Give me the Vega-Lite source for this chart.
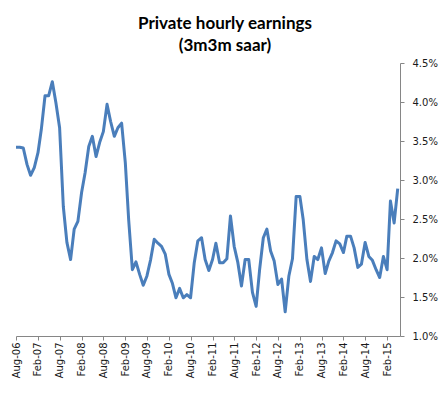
{
  "$schema": "https://vega.github.io/schema/vega-lite/v6.json",
  "width": 384,
  "height": 273,
  "autosize": {"type": "none"},
  "padding": {"left": 16, "top": 63, "right": 47, "bottom": 57},
  "background": "white",
  "config": {"view": {"stroke": null}},
  "title": {
    "text": ["Private hourly earnings", "(3m3m saar)"],
    "font": "Lato",
    "fontSize": 17,
    "fontWeight": "bold",
    "color": "black",
    "lineHeight": 22,
    "anchor": "middle",
    "dx": 17,
    "offset": 3
  },
  "data": {
    "values": [
      {"date": "2006-08-01", "value": 3.42},
      {"date": "2006-09-01", "value": 3.42},
      {"date": "2006-10-01", "value": 3.41},
      {"date": "2006-11-01", "value": 3.20},
      {"date": "2006-12-01", "value": 3.06},
      {"date": "2007-01-01", "value": 3.16},
      {"date": "2007-02-01", "value": 3.35},
      {"date": "2007-03-01", "value": 3.65},
      {"date": "2007-04-01", "value": 4.08},
      {"date": "2007-05-01", "value": 4.08},
      {"date": "2007-06-01", "value": 4.26},
      {"date": "2007-07-01", "value": 3.99},
      {"date": "2007-08-01", "value": 3.67},
      {"date": "2007-09-01", "value": 2.66},
      {"date": "2007-10-01", "value": 2.20},
      {"date": "2007-11-01", "value": 1.98},
      {"date": "2007-12-01", "value": 2.37},
      {"date": "2008-01-01", "value": 2.47},
      {"date": "2008-02-01", "value": 2.84},
      {"date": "2008-03-01", "value": 3.09},
      {"date": "2008-04-01", "value": 3.43},
      {"date": "2008-05-01", "value": 3.56},
      {"date": "2008-06-01", "value": 3.30},
      {"date": "2008-07-01", "value": 3.48},
      {"date": "2008-08-01", "value": 3.62},
      {"date": "2008-09-01", "value": 3.97},
      {"date": "2008-10-01", "value": 3.75},
      {"date": "2008-11-01", "value": 3.56},
      {"date": "2008-12-01", "value": 3.67},
      {"date": "2009-01-01", "value": 3.73},
      {"date": "2009-02-01", "value": 3.22},
      {"date": "2009-03-01", "value": 2.49},
      {"date": "2009-04-01", "value": 1.85},
      {"date": "2009-05-01", "value": 1.95},
      {"date": "2009-06-01", "value": 1.79},
      {"date": "2009-07-01", "value": 1.65},
      {"date": "2009-08-01", "value": 1.77},
      {"date": "2009-09-01", "value": 1.98},
      {"date": "2009-10-01", "value": 2.24},
      {"date": "2009-11-01", "value": 2.19},
      {"date": "2009-12-01", "value": 2.15},
      {"date": "2010-01-01", "value": 2.05},
      {"date": "2010-02-01", "value": 1.79},
      {"date": "2010-03-01", "value": 1.68},
      {"date": "2010-04-01", "value": 1.49},
      {"date": "2010-05-01", "value": 1.61},
      {"date": "2010-06-01", "value": 1.49},
      {"date": "2010-07-01", "value": 1.53},
      {"date": "2010-08-01", "value": 1.49},
      {"date": "2010-09-01", "value": 1.94},
      {"date": "2010-10-01", "value": 2.22},
      {"date": "2010-11-01", "value": 2.26},
      {"date": "2010-12-01", "value": 1.98},
      {"date": "2011-01-01", "value": 1.84},
      {"date": "2011-02-01", "value": 1.98},
      {"date": "2011-03-01", "value": 2.19},
      {"date": "2011-04-01", "value": 1.94},
      {"date": "2011-05-01", "value": 1.94},
      {"date": "2011-06-01", "value": 1.99},
      {"date": "2011-07-01", "value": 2.54},
      {"date": "2011-08-01", "value": 2.15},
      {"date": "2011-09-01", "value": 1.94},
      {"date": "2011-10-01", "value": 1.64},
      {"date": "2011-11-01", "value": 1.98},
      {"date": "2011-12-01", "value": 1.98},
      {"date": "2012-01-01", "value": 1.56},
      {"date": "2012-02-01", "value": 1.38},
      {"date": "2012-03-01", "value": 1.85},
      {"date": "2012-04-01", "value": 2.26},
      {"date": "2012-05-01", "value": 2.37},
      {"date": "2012-06-01", "value": 2.09},
      {"date": "2012-07-01", "value": 1.96},
      {"date": "2012-08-01", "value": 1.66},
      {"date": "2012-09-01", "value": 1.73},
      {"date": "2012-10-01", "value": 1.31},
      {"date": "2012-11-01", "value": 1.77},
      {"date": "2012-12-01", "value": 1.99},
      {"date": "2013-01-01", "value": 2.79},
      {"date": "2013-02-01", "value": 2.79},
      {"date": "2013-03-01", "value": 2.49},
      {"date": "2013-04-01", "value": 1.98},
      {"date": "2013-05-01", "value": 1.70},
      {"date": "2013-06-01", "value": 2.02},
      {"date": "2013-07-01", "value": 1.98},
      {"date": "2013-08-01", "value": 2.13},
      {"date": "2013-09-01", "value": 1.80},
      {"date": "2013-10-01", "value": 1.96},
      {"date": "2013-11-01", "value": 2.07},
      {"date": "2013-12-01", "value": 2.22},
      {"date": "2014-01-01", "value": 2.18},
      {"date": "2014-02-01", "value": 2.07},
      {"date": "2014-03-01", "value": 2.28},
      {"date": "2014-04-01", "value": 2.28},
      {"date": "2014-05-01", "value": 2.13},
      {"date": "2014-06-01", "value": 1.88},
      {"date": "2014-07-01", "value": 1.92},
      {"date": "2014-08-01", "value": 2.20},
      {"date": "2014-09-01", "value": 2.02},
      {"date": "2014-10-01", "value": 1.97},
      {"date": "2014-11-01", "value": 1.85},
      {"date": "2014-12-01", "value": 1.75},
      {"date": "2015-01-01", "value": 2.02},
      {"date": "2015-02-01", "value": 1.85},
      {"date": "2015-03-01", "value": 2.73},
      {"date": "2015-04-01", "value": 2.45},
      {"date": "2015-05-01", "value": 2.89}
    ]
  },
  "mark": {"type": "line", "color": "#4A7EBB", "strokeWidth": 3, "strokeJoin": "round"},
  "encoding": {
    "x": {
      "field": "date",
      "type": "temporal",
      "scale": {
        "type": "utc",
        "domain": [
          {"year": 2006, "month": 8, "date": 1, "utc": true},
          {"year": 2015, "month": 5, "date": 20, "utc": true}
        ]
      },
      "axis": {
        "values": [
          {"year": 2006, "month": 8, "date": 1, "utc": true},
          {"year": 2007, "month": 2, "date": 1, "utc": true},
          {"year": 2007, "month": 8, "date": 1, "utc": true},
          {"year": 2008, "month": 2, "date": 1, "utc": true},
          {"year": 2008, "month": 8, "date": 1, "utc": true},
          {"year": 2009, "month": 2, "date": 1, "utc": true},
          {"year": 2009, "month": 8, "date": 1, "utc": true},
          {"year": 2010, "month": 2, "date": 1, "utc": true},
          {"year": 2010, "month": 8, "date": 1, "utc": true},
          {"year": 2011, "month": 2, "date": 1, "utc": true},
          {"year": 2011, "month": 8, "date": 1, "utc": true},
          {"year": 2012, "month": 2, "date": 1, "utc": true},
          {"year": 2012, "month": 8, "date": 1, "utc": true},
          {"year": 2013, "month": 2, "date": 1, "utc": true},
          {"year": 2013, "month": 8, "date": 1, "utc": true},
          {"year": 2014, "month": 2, "date": 1, "utc": true},
          {"year": 2014, "month": 8, "date": 1, "utc": true},
          {"year": 2015, "month": 2, "date": 1, "utc": true}
        ],
        "format": "%b-%y",
        "labelAngle": 270,
        "labelFont": "DejaVu Sans",
        "labelFontSize": 10,
        "labelColor": "#1a1a1a",
        "labelPadding": 2,
        "labelOverlap": false,
        "labelFlush": false,
        "tickSize": 4,
        "tickColor": "#868686",
        "domainColor": "#868686",
        "grid": false,
        "title": null
      }
    },
    "y": {
      "field": "value",
      "type": "quantitative",
      "scale": {"domain": [1, 4.5], "nice": false, "zero": false},
      "axis": {
        "orient": "right",
        "values": [1, 1.5, 2, 2.5, 3, 3.5, 4, 4.5],
        "labelExpr": "format(datum.value, '.1f') + '%'",
        "labelFont": "DejaVu Sans",
        "labelFontSize": 10,
        "labelColor": "#1a1a1a",
        "labelPadding": 8,
        "labelFlush": false,
        "tickSize": 4,
        "tickColor": "#868686",
        "domainColor": "#868686",
        "grid": false,
        "title": null
      }
    }
  }
}
